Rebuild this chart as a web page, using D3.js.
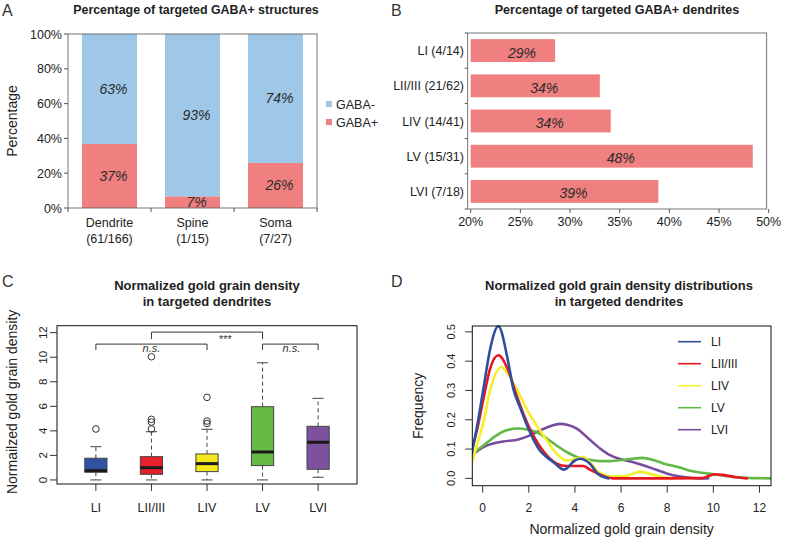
<!DOCTYPE html>
<html>
<head>
<meta charset="utf-8">
<script src="https://cdn.jsdelivr.net/npm/d3@7"></script>
<style>
  html, body { margin: 0; padding: 0; background: #fff; }
  svg { display: block; font-family: "Liberation Sans", Arial, sans-serif; }
</style>
</head>
<body>
<svg id="chart" width="791" height="538"></svg>
<script>
// ---------- Panel A data ----------
const aCategories = ["Dendrite", "Spine", "Soma"];
const aCounts = ["(61/166)", "(1/15)", "(7/27)"];
const aGabaPos = [36.8, 6.7, 25.9];
const aGabaNeg = [63.2, 93.3, 74.1];
const aPosLabels = ["37%", "7%", "26%"];
const aNegLabels = ["63%", "93%", "74%"];
const aYTicks = [0, 20, 40, 60, 80, 100];
const aLegend = ["GABA-", "GABA+"];

// ---------- Panel B data ----------
const bCategories = ["LI (4/14)", "LII/III (21/62)", "LIV (14/41)", "LV (15/31)", "LVI (7/18)"];
const bValues = [28.5, 33.0, 34.1, 48.4, 38.9];
const bLabels = ["29%", "34%", "34%", "48%", "39%"];
const bXTicks = [20, 25, 30, 35, 40, 45, 50];

// ---------- Panel C data ----------
const cLayers = ["LI", "LII/III", "LIV", "LV", "LVI"];
const cWhiskLow = [0, 0, 0, 0, 0.22];
const cQ1 = [0.63, 0.46, 0.68, 1.17, 0.87];
const cMedian = [0.76, 1.0, 1.33, 2.28, 3.07];
const cQ3 = [1.77, 1.9, 2.12, 5.97, 4.37];
const cWhiskHigh = [2.71, 3.93, 4.13, 9.55, 6.65];
const cOutliers = [[4.15], [4.15, 4.72, 4.94, 10.04], [4.6, 4.8, 6.73], [], []];
const cYTicks = [0, 2, 4, 6, 8, 10, 12];
const cBracketFrom = [1, 2, 4];
const cBracketTo = [3, 4, 5];
const cBracketTop = [11.07, 12.05, 11.07];
const cBracketFoot = [10.59, 11.48, 10.59];
const cBracketLabel = ["n.s.", "***", "n.s."];
const cBracketLabelX = [2, 3.33, 4.52];
const cBracketLabelY = [10.42, 11.15, 10.42];

// ---------- Panel D data ----------
const dLayers = ["LI", "LII/III", "LIV", "LV", "LVI"];
const dX_LI = [-0.48,-0.26,0.03,0.32,0.68,1.1,1.33,1.65,1.98,2.48,2.77,3.06,3.53,4.0,4.22,4.65,5.0,5.45];
const dY_LI = [0.085,0.17,0.305,0.44,0.519,0.40,0.305,0.237,0.17,0.095,0.073,0.056,0.03,0.061,0.067,0.05,0.015,0.0];
const dX_LII = [-0.48,-0.26,0.03,0.32,0.68,1.1,1.47,1.98,2.56,3.21,3.64,4.0,4.36,4.65,5.0,5.3,5.66,6.5,8.0,9.5,9.8,10.07,10.4,11.0,11.45];
const dY_LII = [0.095,0.16,0.27,0.374,0.42,0.37,0.283,0.18,0.10,0.05,0.042,0.042,0.042,0.03,0.016,0.006,0.0,0.0,0.0,0.001,0.008,0.014,0.012,0.004,0.0];
const dX_LIV = [-0.48,-0.26,0.03,0.32,0.82,0.96,1.47,1.98,2.63,3.21,3.64,4.0,4.36,4.65,5.09,5.66,6.3,6.82,7.4,8.12,8.3];
const dY_LIV = [0.05,0.11,0.19,0.30,0.38,0.37,0.305,0.226,0.147,0.084,0.061,0.066,0.073,0.055,0.017,0.006,0.01,0.023,0.012,0.001,0.0];
const dX_LV = [-0.48,0.03,0.6,1.0,1.55,2.0,2.34,2.8,3.21,3.6,4.08,4.6,5.09,5.5,5.95,6.5,6.9,7.4,7.83,8.5,8.99,9.5,10.0,10.5,11.0,11.7,12.6];
const dY_LV = [0.084,0.112,0.147,0.163,0.17,0.165,0.158,0.135,0.112,0.092,0.073,0.064,0.059,0.059,0.062,0.067,0.07,0.063,0.051,0.038,0.026,0.019,0.014,0.008,0.004,0.001,0.0];
const dX_LVI = [-0.48,0.03,0.5,0.89,1.55,2.0,2.34,2.9,3.35,3.7,4.08,4.6,5.09,5.5,5.95,6.5,6.96,7.5,7.98,8.5,8.99,9.4,9.78];
const dY_LVI = [0.078,0.107,0.12,0.126,0.133,0.145,0.158,0.177,0.186,0.182,0.17,0.135,0.102,0.08,0.066,0.056,0.045,0.03,0.017,0.007,0.002,0.0,0.0];
const dXTicks = [0, 2, 4, 6, 8, 10, 12];
const dYTicks = [0, 0.1, 0.2, 0.3, 0.4, 0.5];

// ---------- Colours ----------
const colGabaNeg = "#9fc7e8";
const colGabaPos = "#f08080";
const layerColors = ["#2e52a2", "#e6212a", "#f2e81c", "#66ba46", "#7b51a0"];
const lineColors = ["#2f4f9e", "#e8171e", "#f5ee2a", "#62b845", "#7a4ca0"];

const svg = d3.select("#chart");

function panelLetter(t, x, y) {
  svg.append("text").attr("x", x).attr("y", y).attr("font-size", 16).attr("fill", "#333").text(t);
}
panelLetter("A", 2, 16);
panelLetter("B", 391, 16);
panelLetter("C", 2, 287);
panelLetter("D", 391, 287);

// ================= Panel A =================
(function () {
  const L = 68, R = 317, T = 34, B = 208;
  const g = svg.append("g");
  const x = d3.scaleBand().domain(aCategories).range([L, R]).paddingInner(0.337).paddingOuter(0.168);
  const y = d3.scaleLinear().domain([0, 100]).range([B, T]);

  g.append("text").attr("x", 196).attr("y", 14).attr("text-anchor", "middle")
    .attr("font-size", 12.4).attr("font-weight", "bold").attr("fill", "#222")
    .text("Percentage of targeted GABA+ structures");

  aCategories.forEach((c, i) => {
    g.append("rect").attr("x", x(c)).attr("width", x.bandwidth())
      .attr("y", y(aGabaPos[i])).attr("height", y(0) - y(aGabaPos[i])).attr("fill", colGabaPos);
    g.append("rect").attr("x", x(c)).attr("width", x.bandwidth())
      .attr("y", y(aGabaPos[i] + aGabaNeg[i])).attr("height", y(aGabaPos[i]) - y(aGabaPos[i] + aGabaNeg[i]))
      .attr("fill", colGabaNeg);
    g.append("text").attr("x", x(c) + x.bandwidth() / 2 + 4).attr("y", y(aGabaPos[i] + aGabaNeg[i] / 2) + 5)
      .attr("text-anchor", "middle").attr("font-size", 14).attr("font-style", "italic").attr("fill", "#2a2a2a")
      .text(aNegLabels[i]);
    g.append("text").attr("x", x(c) + x.bandwidth() / 2 + 4).attr("y", y(aGabaPos[i] / 2) + 5)
      .attr("text-anchor", "middle").attr("font-size", 14).attr("font-style", "italic").attr("fill", "#2a2a2a")
      .text(aPosLabels[i]);
    g.append("text").attr("x", x(c) + x.bandwidth() / 2).attr("y", 227)
      .attr("text-anchor", "middle").attr("font-size", 12.5).attr("fill", "#222").text(c);
    g.append("text").attr("x", x(c) + x.bandwidth() / 2).attr("y", 243)
      .attr("text-anchor", "middle").attr("font-size", 12.5).attr("fill", "#222").text(aCounts[i]);
  });

  g.append("rect").attr("x", L).attr("y", T).attr("width", R - L).attr("height", B - T)
    .attr("fill", "none").attr("stroke", "#555").attr("stroke-width", 0.8);
  aYTicks.forEach(t => {
    g.append("line").attr("x1", L - 4).attr("x2", L).attr("y1", y(t)).attr("y2", y(t)).attr("stroke", "#555");
    g.append("text").attr("x", L - 6).attr("y", y(t) + 4.5).attr("text-anchor", "end")
      .attr("font-size", 12.5).attr("fill", "#222").text(t + "%");
  });
  const step = x.step();
  for (let i = 0; i <= aCategories.length; i++) {
    const xx = L + i * step;
    g.append("line").attr("x1", xx).attr("x2", xx).attr("y1", B).attr("y2", B + 4).attr("stroke", "#555");
  }
  g.append("text").attr("transform", `translate(17,${(T + B) / 2}) rotate(-90)`).attr("text-anchor", "middle")
    .attr("font-size", 14).attr("fill", "#222").text("Percentage");

  const legCols = [colGabaNeg, colGabaPos];
  aLegend.forEach((lab, i) => {
    const yy = 104 + i * 18;
    g.append("rect").attr("x", 326).attr("y", yy - 3).attr("width", 6).attr("height", 6).attr("fill", legCols[i]);
    g.append("text").attr("x", 336).attr("y", yy + 4.5).attr("font-size", 12.5).attr("fill", "#222").text(lab);
  });
})();

// ================= Panel B =================
(function () {
  const L = 467.7, R = 766.7, T = 33, B = 209;
  const g = svg.append("g");
  const x = d3.scaleLinear().domain([19.7, 49.8]).range([L, R]);
  const y = d3.scaleBand().domain(bCategories).range([T, B]).paddingInner(0.35).paddingOuter(0.175);

  g.append("text").attr("x", 617).attr("y", 14).attr("text-anchor", "middle")
    .attr("font-size", 12.6).attr("font-weight", "bold").attr("fill", "#222")
    .text("Percentage of targeted GABA+ dendrites");

  bCategories.forEach((c, i) => {
    g.append("rect").attr("x", x(20)).attr("y", y(c)).attr("height", y.bandwidth())
      .attr("width", x(bValues[i]) - x(20)).attr("fill", colGabaPos);
    g.append("text").attr("x", (x(20) + x(bValues[i])) / 2 + 9).attr("y", y(c) + y.bandwidth() / 2 + 7)
      .attr("text-anchor", "middle").attr("font-size", 14).attr("font-style", "italic").attr("fill", "#2a2a2a")
      .text(bLabels[i]);
    g.append("text").attr("x", 464).attr("y", y(c) + y.bandwidth() / 2 + 4.5).attr("text-anchor", "end")
      .attr("font-size", 12.5).attr("fill", "#222").text(c);
  });

  g.append("rect").attr("x", L).attr("y", T).attr("width", R - L).attr("height", B - T)
    .attr("fill", "none").attr("stroke", "#555").attr("stroke-width", 0.8);
  for (let i = 0; i <= bCategories.length; i++) {
    const yy = T + i * y.step();
    g.append("line").attr("x1", L - 3).attr("x2", L).attr("y1", yy).attr("y2", yy).attr("stroke", "#555");
  }
  bXTicks.forEach(t => {
    g.append("line").attr("x1", x(t)).attr("x2", x(t)).attr("y1", B).attr("y2", B + 4).attr("stroke", "#555");
    g.append("text").attr("x", x(t)).attr("y", 226).attr("text-anchor", "middle")
      .attr("font-size", 12.5).attr("fill", "#222").text(t + "%");
  });
})();

// ================= Panel C =================
(function () {
  const L = 57, R = 357, T = 325.7, B = 484;
  const g = svg.append("g");
  const x = d3.scaleLinear().domain([0.3, 5.7]).range([L, R]);
  const y = d3.scaleLinear().domain([-0.33, 12.57]).range([B, T]);
  const bw = x(1.4) - x(1.0);

  g.append("text").attr("x", 207).attr("y", 290).attr("text-anchor", "middle")
    .attr("font-size", 13).attr("font-weight", "bold").attr("fill", "#222").text("Normalized gold grain density");
  g.append("text").attr("x", 207).attr("y", 306).attr("text-anchor", "middle")
    .attr("font-size", 13).attr("font-weight", "bold").attr("fill", "#222").text("in targeted dendrites");

  cLayers.forEach((lay, i) => {
    const cx = x(i + 1);
    g.append("line").attr("x1", cx).attr("x2", cx).attr("y1", y(cQ3[i])).attr("y2", y(cWhiskHigh[i]))
      .attr("stroke", "#444").attr("stroke-dasharray", "4,3");
    g.append("line").attr("x1", cx).attr("x2", cx).attr("y1", y(cQ1[i])).attr("y2", y(cWhiskLow[i]))
      .attr("stroke", "#444").attr("stroke-dasharray", "4,3");
    g.append("line").attr("x1", cx - bw / 4).attr("x2", cx + bw / 4).attr("y1", y(cWhiskHigh[i])).attr("y2", y(cWhiskHigh[i]))
      .attr("stroke", "#444");
    g.append("line").attr("x1", cx - bw / 4).attr("x2", cx + bw / 4).attr("y1", y(cWhiskLow[i])).attr("y2", y(cWhiskLow[i]))
      .attr("stroke", "#444");
    g.append("rect").attr("x", cx - bw / 2).attr("width", bw).attr("y", y(cQ3[i])).attr("height", y(cQ1[i]) - y(cQ3[i]))
      .attr("fill", layerColors[i]).attr("stroke", "#444").attr("stroke-width", 1);
    g.append("line").attr("x1", cx - bw / 2).attr("x2", cx + bw / 2).attr("y1", y(cMedian[i])).attr("y2", y(cMedian[i]))
      .attr("stroke", "#1a1a1a").attr("stroke-width", 3);
    cOutliers[i].forEach(o => {
      g.append("circle").attr("cx", cx).attr("cy", y(o)).attr("r", 3.3).attr("fill", "none").attr("stroke", "#333");
    });
    g.append("line").attr("x1", cx).attr("x2", cx).attr("y1", B).attr("y2", B + 7).attr("stroke", "#333");
    g.append("text").attr("x", cx).attr("y", 512).attr("text-anchor", "middle")
      .attr("font-size", 12.5).attr("fill", "#222").text(lay);
  });

  cBracketFrom.forEach((f, i) => {
    const x1 = x(f), x2 = x(cBracketTo[i]);
    g.append("path").attr("d", `M${x1},${y(cBracketFoot[i])}V${y(cBracketTop[i])}H${x2}V${y(cBracketFoot[i])}`)
      .attr("fill", "none").attr("stroke", "#333").attr("stroke-width", 1);
    g.append("text").attr("x", x(cBracketLabelX[i])).attr("y", y(cBracketLabelY[i]))
      .attr("text-anchor", "middle").attr("font-size", 11).attr("font-style", cBracketLabel[i] === "***" ? "normal" : "italic")
      .attr("fill", "#333").text(cBracketLabel[i]);
  });

  g.append("rect").attr("x", L).attr("y", T).attr("width", R - L).attr("height", B - T)
    .attr("fill", "none").attr("stroke", "#111").attr("stroke-width", 1);
  cYTicks.forEach(t => {
    g.append("line").attr("x1", L - 7).attr("x2", L).attr("y1", y(t)).attr("y2", y(t)).attr("stroke", "#333");
    g.append("text").attr("transform", `translate(47,${y(t)}) rotate(-90)`).attr("text-anchor", "middle")
      .attr("font-size", 11.5).attr("fill", "#222").text(t);
  });
  g.append("text").attr("transform", `translate(17,${(T + B) / 2 - 3}) rotate(-90)`).attr("text-anchor", "middle")
    .attr("font-size", 14).attr("fill", "#222").text("Normailzed gold grain density");
})();

// ================= Panel D =================
(function () {
  const L = 472.3, R = 771, T = 326, B = 485.7;
  const g = svg.append("g");
  const x = d3.scaleLinear().domain([-0.45, 12.5]).range([L, R]);
  const y = d3.scaleLinear().domain([-0.025, 0.52]).range([B, T]);

  g.append("text").attr("x", 619).attr("y", 290).attr("text-anchor", "middle")
    .attr("font-size", 13).attr("font-weight", "bold").attr("fill", "#222").text("Normalized gold grain density distributions");
  g.append("text").attr("x", 619).attr("y", 306).attr("text-anchor", "middle")
    .attr("font-size", 13).attr("font-weight", "bold").attr("fill", "#222").text("in targeted dendrites");

  svg.append("defs").append("clipPath").attr("id", "dclip").append("rect")
    .attr("x", L).attr("y", T - 2).attr("width", R - L).attr("height", B - T + 2);

  const series = [[dX_LI, dY_LI], [dX_LII, dY_LII], [dX_LIV, dY_LIV], [dX_LV, dY_LV], [dX_LVI, dY_LVI]];
  const line = d3.line().x(d => x(d[0])).y(d => y(d[1])).curve(d3.curveMonotoneX);
  const order = [4, 3, 2, 1, 0];
  const cg = g.append("g").attr("clip-path", "url(#dclip)");
  order.forEach(i => {
    const pts = series[i][0].map((xv, k) => [xv, series[i][1][k]]);
    cg.append("path").attr("d", line(pts)).attr("fill", "none").attr("stroke", lineColors[i])
      .attr("stroke-width", 2.6).attr("stroke-linejoin", "round").attr("stroke-linecap", "round");
  });

  g.append("rect").attr("x", L).attr("y", T).attr("width", R - L).attr("height", B - T)
    .attr("fill", "none").attr("stroke", "#111").attr("stroke-width", 1);
  dXTicks.forEach(t => {
    g.append("line").attr("x1", x(t)).attr("x2", x(t)).attr("y1", B).attr("y2", B + 7).attr("stroke", "#333");
    g.append("text").attr("x", x(t)).attr("y", 512).attr("text-anchor", "middle")
      .attr("font-size", 12).attr("fill", "#222").text(t);
  });
  dYTicks.forEach(t => {
    g.append("line").attr("x1", L - 7).attr("x2", L).attr("y1", y(t)).attr("y2", y(t)).attr("stroke", "#333");
    g.append("text").attr("transform", `translate(455,${y(t)}) rotate(-90)`).attr("text-anchor", "middle")
      .attr("font-size", 11).attr("fill", "#222").text(t.toFixed(1));
  });
  g.append("text").attr("x", (L + R) / 2).attr("y", 534).attr("text-anchor", "middle")
    .attr("font-size", 14).attr("fill", "#222").text("Normalized gold grain density");
  g.append("text").attr("transform", `translate(423,${(T + B) / 2}) rotate(-90)`).attr("text-anchor", "middle")
    .attr("font-size", 14).attr("fill", "#222").text("Frequency");

  dLayers.forEach((lab, i) => {
    const yy = 341.7 + i * 22;
    g.append("line").attr("x1", 678).attr("x2", 701).attr("y1", yy).attr("y2", yy)
      .attr("stroke", lineColors[i]).attr("stroke-width", 1.6);
    g.append("text").attr("x", 711).attr("y", yy + 4.5).attr("font-size", 12).attr("fill", "#222").text(lab);
  });
})();
</script>
</body>
</html>
